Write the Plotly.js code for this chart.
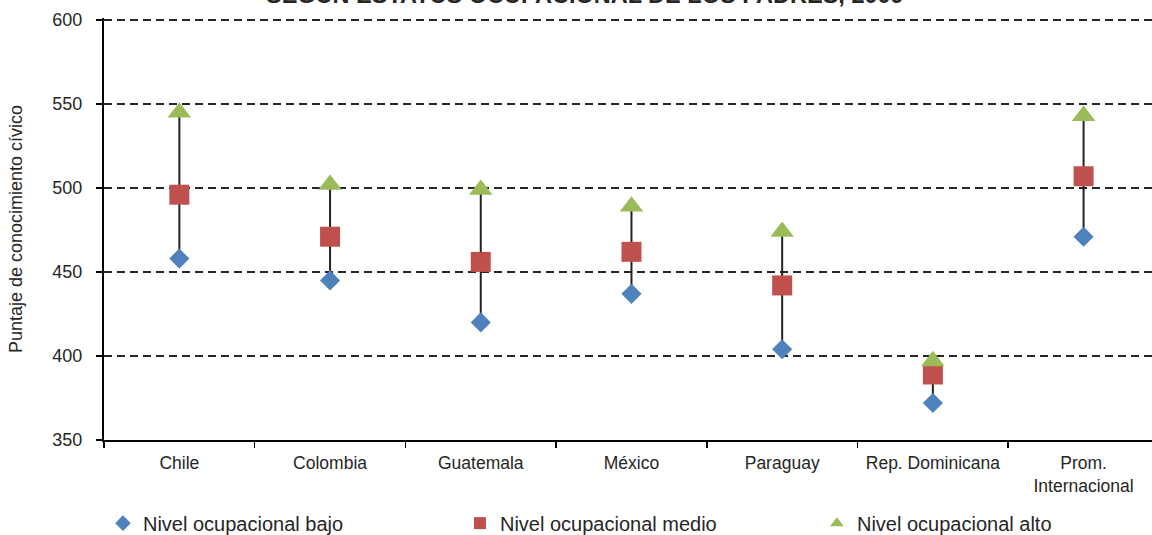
<!DOCTYPE html>
<html>
<head>
<meta charset="utf-8">
<script src="https://cdn.plot.ly/plotly-3.0.1.min.js"></script>
<style>
html, body { margin: 0; padding: 0; overflow: hidden; background: #fff; }
#chart { width: 1152px; height: 535px; }
</style>
</head>
<body>
<div id="chart"></div>
<script>
const categories = ["Chile", "Colombia", "Guatemala", "México", "Paraguay", "Rep. Dominicana", "Prom.<br>Internacional"];
const nivelBajo  = [458, 445, 420, 437, 404, 372, 471];
const nivelMedio = [496, 471, 456, 462, 442, 389, 507];
const nivelAlto  = [545, 502, 499, 489, 474, 397, 543];
const seriesNames = ["Nivel ocupacional bajo", "Nivel ocupacional medio", "Nivel ocupacional alto"];
const yTicks = [350, 400, 450, 500, 550, 600];
const titleText = "SEGÚN ESTATUS OCUPACIONAL DE LOS PADRES, 2009";
const yTitle = "Puntaje de conocimiento cívico";

const FONT = "Liberation Sans, Arial, sans-serif";

// high-low connector lines built from the data
const lx = [], ly = [];
categories.forEach((c, i) => {
  lx.push(c, c, null);
  ly.push(nivelBajo[i], nivelAlto[i], null);
});

const traces = [
  {x: lx, y: ly, type: "scatter", mode: "lines", line: {color: "#222222", width: 2},
   showlegend: false, hoverinfo: "skip"},
  {x: categories, y: nivelBajo, name: seriesNames[0], type: "scatter", mode: "markers",
   marker: {symbol: "diamond", size: 15.5, color: "#4F81BD", line: {width: 0}}},
  {x: categories, y: nivelMedio, name: seriesNames[1], type: "scatter", mode: "markers",
   marker: {symbol: "square", size: 20, color: "#C0504D", line: {width: 0}}},
  {x: categories, y: nivelAlto, name: seriesNames[2], type: "scatter", mode: "markers",
   marker: {symbol: "triangle-up", size: 20.5, color: "#9BBB59", line: {width: 0}}}
];

const layout = {
  width: 1152, height: 535,
  margin: {l: 104, r: 0, t: 18, b: 95, autoexpand: false},
  paper_bgcolor: "#ffffff", plot_bgcolor: "#ffffff",
  font: {family: FONT, color: "#262626", size: 17},
  showlegend: true,
  legend: {orientation: "h", x: -0.001, xanchor: "left", y: -0.197, yanchor: "middle",
           font: {size: 20, family: FONT, color: "#262626"},
           entrywidth: 312, entrywidthmode: "pixels", itemsizing: "constant",
           itemwidth: 30, bgcolor: "rgba(0,0,0,0)", traceorder: "normal"},
  xaxis: {type: "category", range: [-0.5, 6.454], showgrid: false, zeroline: false,
          showline: true, linecolor: "#000000", linewidth: 2,
          ticks: "outside", ticklen: 6, tickwidth: 1.5, tickcolor: "#000000",
          tickson: "boundaries", ticklabelstandoff: 6,
          tickfont: {size: 17.5, color: "#262626"},
          fixedrange: true},
  yaxis: {range: [350, 601.19], tickvals: yTicks, ticktext: yTicks.map(String),
          showgrid: true, gridcolor: "#262626", gridwidth: 2, griddash: "8px,5px",
          zeroline: false, showline: true, linecolor: "#000000", linewidth: 2,
          ticks: "outside", ticklen: 6, tickwidth: 1.5, tickcolor: "#000000",
          ticklabelstandoff: 10, tickfont: {size: 18, color: "#262626"},
          title: {text: yTitle, font: {size: 18, color: "#262626"}, standoff: 25},
          fixedrange: true},
  annotations: [{
    text: "<b>" + titleText + "</b>", xref: "paper", yref: "paper",
    x: 0.459, y: 1, xanchor: "center", yanchor: "bottom", yshift: 8,
    showarrow: false, font: {size: 23.5, family: FONT, color: "#262626"}
  }]
};

Plotly.newPlot("chart", traces, layout, {displayModeBar: false, staticPlot: true});
</script>
</body>
</html>
